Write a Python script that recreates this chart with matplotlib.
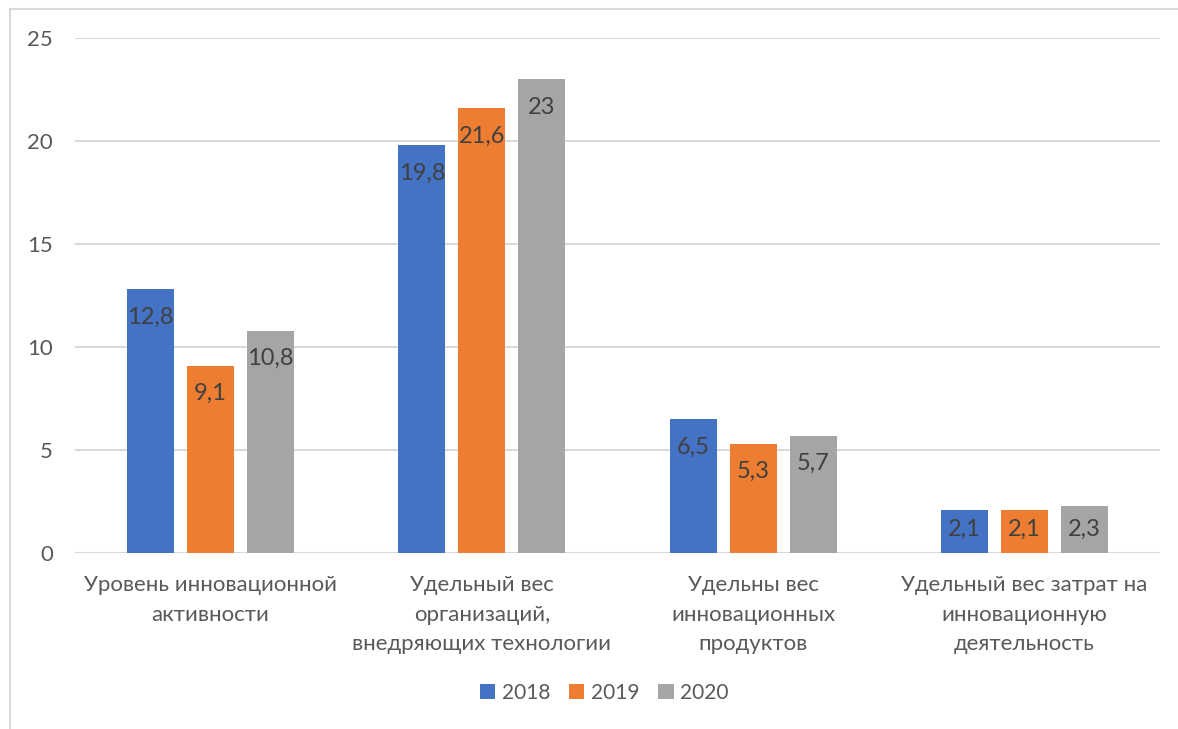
import numpy as np
import matplotlib.pyplot as plt
from matplotlib.patches import Rectangle

# данные
kategorii = ["Уровень инновационной\nактивности",
             "Удельный вес\nорганизаций,\nвнедряющих технологии",
             "Удельны вес\nинновационных\nпродуктов",
             "Удельный вес затрат на\nинновационную\nдеятельность"]
goda = ["2018", "2019", "2020"]
v2018 = [12.8, 19.8, 6.5, 2.1]
v2019 = [9.1, 21.6, 5.3, 2.1]
v2020 = [10.8, 23.0, 5.7, 2.3]

colores = ["#4472C4", "#ED7D31", "#A5A5A5"]
gris_txt = "#595959"
fuente = "Lato"

fig = plt.figure(figsize=(11.78, 7.29), dpi=100)
ax = fig.add_axes([75/1178, 1-553/729, 1085/1178, 515/729])

x = np.arange(len(kategorii))
ancho = 0.173
paso = 0.221
for i, (serie, c) in enumerate(zip([v2018, v2019, v2020], colores)):
    pos = x + (i-1)*paso
    ax.bar(pos, serie, width=ancho, color=c, label=goda[i], zorder=3)
    for p, v in zip(pos, serie):
        etiqueta = ('%g' % v).replace('.', ',')
        ax.text(p, max(v-1.36, 1.17), etiqueta, ha='center', va='center',
                fontsize=17, color="#404040", family=fuente, zorder=4)

ax.set_xlim(-0.5, 3.5)
ax.set_ylim(0, 25)
ax.set_yticks(np.arange(0, 26, 5))
ax.yaxis.grid(True, color="#D9D9D9", linewidth=1.5, zorder=0)
ax.set_axisbelow(True)
for s in ax.spines.values():
    s.set_visible(False)
ax.tick_params(length=0, labelsize=16, labelcolor=gris_txt)
ax.tick_params(axis='y', pad=16)
for t in ax.get_yticklabels():
    t.set_family(fuente)
ax.set_xticks(x)
ax.set_xticklabels(kategorii, fontsize=16, color=gris_txt, family=fuente,
                   linespacing=1.6, va='top')
ax.tick_params(axis='x', pad=16)

leg = fig.legend(loc='center', bbox_to_anchor=(604/1178, 1-693/729), ncol=3,
                 frameon=False, prop={'family': fuente, 'size': 15},
                 handlelength=0.75, handleheight=0.75, handletextpad=0.3,
                 columnspacing=0.9)
for t in leg.get_texts():
    t.set_color(gris_txt)

# marco del gráfico
fig.patches.append(Rectangle((10/1178, -0.1), 1.2, 1-9/729+0.1,
                             transform=fig.transFigure, fill=False,
                             edgecolor="#D9D9D9", linewidth=1.5))

plt.savefig('out.png', dpi=100)
